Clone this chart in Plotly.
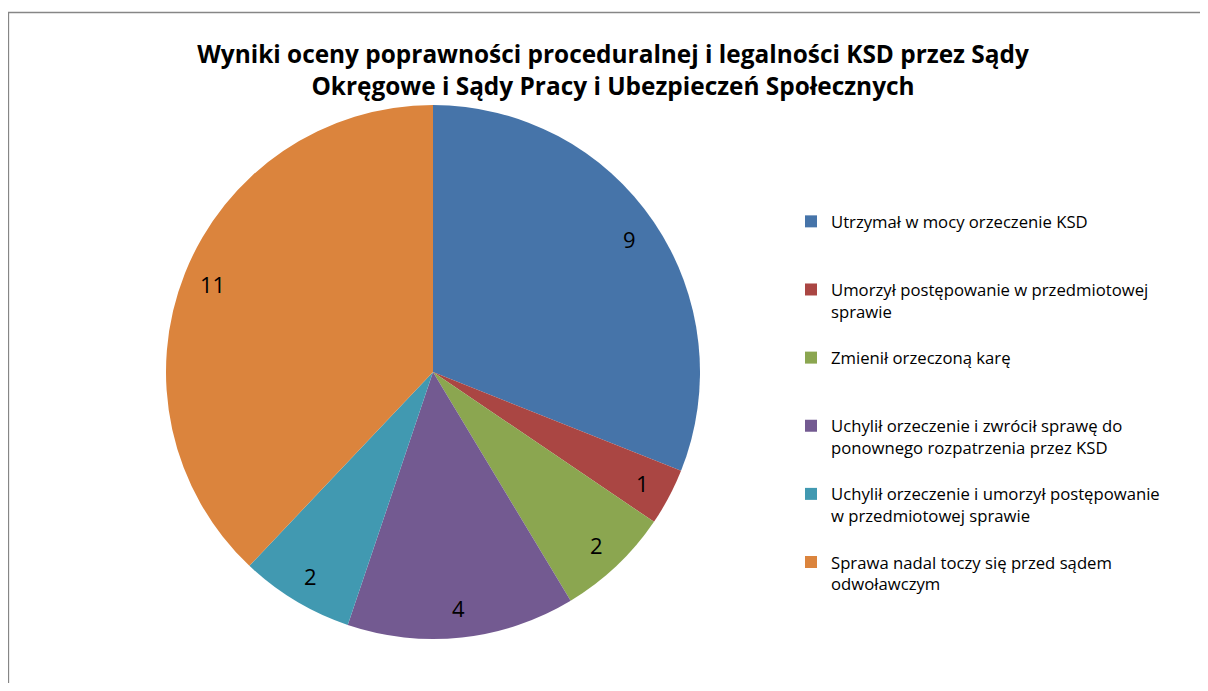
import numpy as np
import plotly.graph_objects as go

categories = [
    "Utrzymał w mocy orzeczenie KSD",
    "Umorzył postępowanie w przedmiotowej<br>sprawie",
    "Zmienił orzeczoną karę",
    "Uchylił orzeczenie i zwrócił sprawę do<br>ponownego rozpatrzenia przez KSD",
    "Uchylił orzeczenie i umorzył postępowanie<br>w przedmiotowej sprawie",
    "Sprawa nadal toczy się przed sądem<br>odwoławczym",
]
values = [9, 1, 2, 4, 2, 11]
colors = ["#4674A9", "#AA4643", "#8BA650", "#735A91", "#4199B1", "#DB843D"]
title_text = ("Wyniki oceny poprawności proceduralnej i legalności KSD przez Sądy<br>"
              "Okręgowe i Sądy Pracy i Ubezpieczeń Społecznych")

# pad legend labels to three lines so each entry has the same height
legend_labels = []
for c in categories:
    n = c.count("<br>") + 1
    legend_labels.append(c + "<br> " * (3 - n))

# page body has an 8px margin; figure sized to fit inside
W, H = 1192, 675
FONT = "Open Sans, sans-serif"

# pie geometry (figure pixels)
cx, cy, R = 425, 364, 267
dom_x = [(cx - R) / W, (cx + R) / W]
dom_y = [1 - (cy + R) / H, 1 - (cy - R) / H]

fig = go.Figure(go.Pie(
    labels=legend_labels,
    values=values,
    sort=False,
    direction="clockwise",
    rotation=0,
    marker=dict(colors=colors, line=dict(width=0)),
    textinfo="none",
    domain=dict(x=dom_x, y=dom_y),
    hoverinfo="label+value",
))

# data labels placed at slice mid-angles, derived from the values
vals = np.array(values, dtype=float)
mids = (np.cumsum(vals) - vals / 2) / vals.sum() * 2 * np.pi
annotations = []
for v, a in zip(values, mids):
    px = cx + 0.89 * R * np.sin(a)
    py = cy - 0.89 * R * np.cos(a)
    annotations.append(dict(x=px / W, y=1 - py / H, xref="paper", yref="paper",
                            xanchor="center", yanchor="middle",
                            text=str(v), showarrow=False,
                            font=dict(size=22, color="black", family=FONT)))

fig.update_layout(
    width=W, height=H,
    margin=dict(l=0, r=0, t=0, b=0),
    paper_bgcolor="white",
    title=dict(text="<b>" + title_text + "</b>", x=605 / W, xanchor="center",
               y=1 - 55 / H, yanchor="top",
               font=dict(size=24.4, color="black", family=FONT)),
    legend=dict(x=783 / W, xanchor="left", y=1 - 196 / H, yanchor="top",
                valign="top", font=dict(size=16.7, color="black", family=FONT),
                bgcolor="rgba(0,0,0,0)"),
    showlegend=True,
    annotations=annotations,
    shapes=[dict(type="rect", xref="paper", yref="paper",
                 x0=0.5 / W, x1=1.02, y0=-0.02, y1=1 - 4.5 / H,
                 line=dict(color="#868686", width=1.3), fillcolor="rgba(0,0,0,0)")],
)

fig.write_html("out.html")
